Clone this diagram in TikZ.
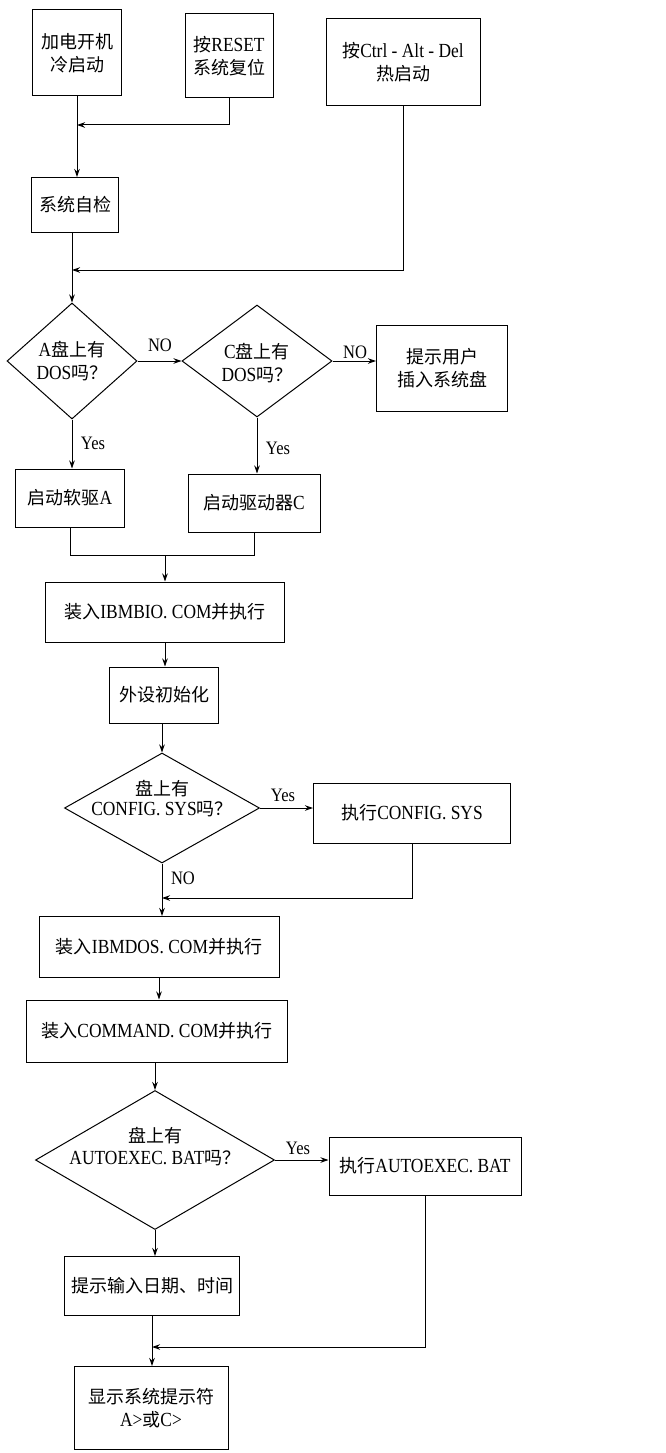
\documentclass[tikz,border=0pt]{standalone}
\usepackage{fontspec}
\setmainfont{Liberation Serif}[FakeStretch=0.87]
\newfontfamily\cjk{Noto Sans CJK SC}[Scale=0.9]
\newcommand\zh[1]{{\cjk #1}}
\usetikzlibrary{shapes.geometric,arrows.meta}
\begin{document}
\begin{tikzpicture}[x=1pt,y=-1pt,
  every node/.style={font=\fontsize{20}{23}\selectfont},
  box/.style={draw, line width=1pt, inner sep=0pt, align=center},
  dia/.style={draw, diamond, line width=1pt, inner sep=0pt},
  dtext/.style={inner sep=0pt, align=center},
  lbl/.style={font=\fontsize{19}{21}\selectfont, inner sep=0pt},
  link/.style={line width=1pt},
  arr/.style={line width=1pt, -{Stealth[length=8pt,width=5.5pt]}},
]
\useasboundingbox (0,0) rectangle (666,1453);
% boxes
\node[box, minimum width=89pt, minimum height=86pt] (b1) at (77,53) {\zh{加电开机}\\\zh{冷启动}};
\node[box, minimum width=88pt, minimum height=84pt] (b2) at (229,56) {\zh{按}RESET\\\zh{系统复位}};
\node[box, minimum width=154pt, minimum height=87pt] (b3) at (403,62) {\zh{按}Ctrl - Alt - Del\\\zh{热启动}};
\node[box, minimum width=87pt, minimum height=55pt] (b4) at (75,205) {\zh{系统自检}};
\node[dia, minimum width=130pt, minimum height=116pt] (dA) at (72,361) {};
\node[dtext] (dAt) at (72,361) {A\zh{盘上有}\\DOS\zh{吗？}};
\node[dia, minimum width=150pt, minimum height=112pt] (dC) at (257,361) {};
\node[dtext] (dCt) at (257,363) {C\zh{盘上有}\\DOS\zh{吗？}};
\node[box, minimum width=131pt, minimum height=86pt] (b6) at (442,368) {\zh{提示用户}\\\zh{插入系统盘}};
\node[box, minimum width=109pt, minimum height=58pt] (b5) at (70,498) {\zh{启动软驱}A};
\node[box, minimum width=132pt, minimum height=58pt] (b7) at (254,503) {\zh{启动驱动器}C};
\node[box, minimum width=239pt, minimum height=60pt] (b8) at (165,612) {\zh{装入}IBMBIO. COM\zh{并执行}};
\node[box, minimum width=109pt, minimum height=56pt] (b9) at (164,695) {\zh{外设初始化}};
\node[dia, minimum width=195pt, minimum height=110pt] (dCfg) at (162,808) {};
\node[dtext, font=\fontsize{20}{20}\selectfont] (dCfgt) at (162,799) {\zh{盘上有}\\CONFIG. SYS\zh{吗？}};
\node[box, minimum width=197pt, minimum height=60pt] (b10) at (412,813) {\zh{执行}CONFIG. SYS};
\node[box, minimum width=240pt, minimum height=61pt] (b11) at (159,947) {\zh{装入}IBMDOS. COM\zh{并执行}};
\node[box, minimum width=261pt, minimum height=62pt] (b12) at (157,1031) {\zh{装入}COMMAND. COM\zh{并执行}};
\node[dia, minimum width=239pt, minimum height=139pt] (dAuto) at (155,1160) {};
\node[dtext, font=\fontsize{20}{22}\selectfont] (dAutot) at (155,1147) {\zh{盘上有}\\AUTOEXEC. BAT\zh{吗？}};
\node[box, minimum width=192pt, minimum height=58pt] (b13) at (425,1166) {\zh{执行}AUTOEXEC. BAT};
\node[box, minimum width=175pt, minimum height=59pt] (b14) at (152,1286) {\zh{提示输入日期、时间}};
\node[box, minimum width=154pt, minimum height=83pt] (b15) at (151,1408) {\zh{显示系统提示符}\\A>\zh{或}C>};
% labels
\node[lbl] (l1) at (160,345) {NO};
\node[lbl] (l2) at (355,352) {NO};
\node[lbl] (l3) at (93,443) {Yes};
\node[lbl] (l4) at (278,448) {Yes};
\node[lbl] (l5) at (283,795) {Yes};
\node[lbl] (l6) at (183,878) {NO};
\node[lbl] (l7) at (298,1148) {Yes};
% join points
\coordinate (j1) at (b1.south |- 0,125);
\coordinate (j2) at (dA.north |- 0,270);
\coordinate (j3) at (b8.north |- 0,555);
\coordinate (j4) at (dCfg.south |- 0,898);
\coordinate (j5) at (b14.south |- 0,1347);
% connectors
\draw[arr] (b1.south) -- (b1.south |- b4.north);
\draw[arr] (b2.south) |- (j1);
\draw[arr] (b4.south -| dA.north) -- (dA.north);
\draw[arr] (b3.south) |- (j2);
\draw[arr] (dA.east) -- (dA.east -| dC.west);
\draw[arr] (dC.east) -- (dC.east -| b6.west);
\draw[arr] (dA.south) -- (dA.south |- b5.north);
\draw[arr] (dC.south) -- (dC.south |- b7.north);
\draw[link] (b5.south) |- (b7.south |- j3) -- (b7.south);
\draw[arr] (j3) -- (b8.north);
\draw[arr] (b8.south) -- (b8.south |- b9.north);
\draw[arr] (b9.south -| dCfg.north) -- (dCfg.north);
\draw[arr] (dCfg.east) -- (dCfg.east -| b10.west);
\draw[arr] (dCfg.south) -- (dCfg.south |- b11.north);
\draw[arr] (b10.south) |- (j4);
\draw[arr] (b11.south) -- (b11.south |- b12.north);
\draw[arr] (b12.south -| dAuto.north) -- (dAuto.north);
\draw[arr] (dAuto.east) -- (dAuto.east -| b13.west);
\draw[arr] (dAuto.south) -- (dAuto.south |- b14.north);
\draw[arr] (b13.south) |- (j5);
\draw[arr] (b14.south) -- (b14.south |- b15.north);
\end{tikzpicture}
\end{document}
